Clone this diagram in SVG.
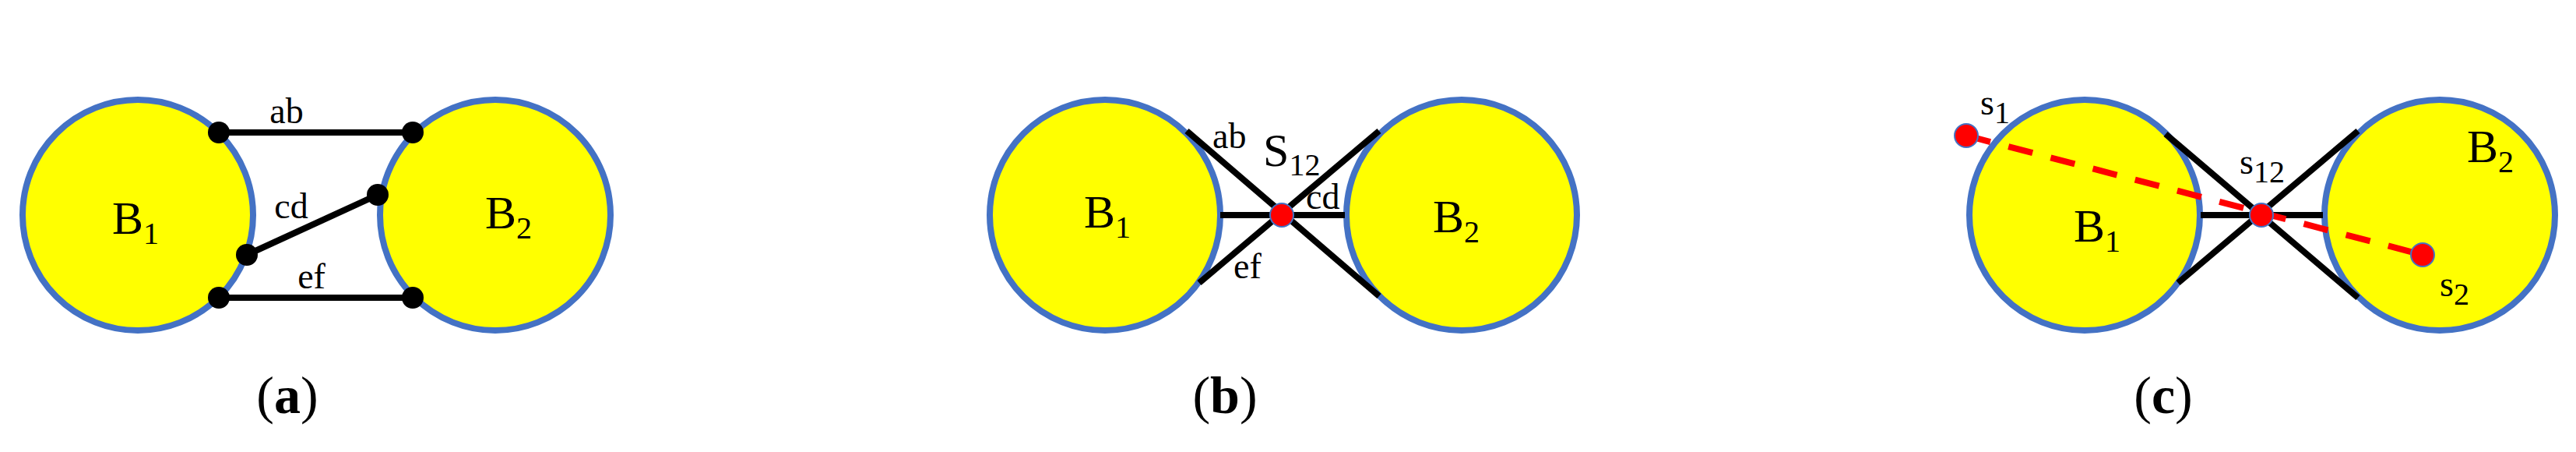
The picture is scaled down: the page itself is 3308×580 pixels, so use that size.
<svg xmlns="http://www.w3.org/2000/svg" width="3308" height="580" viewBox="0 0 3308 580">
<style>
.ball{fill:#ffff00;stroke:#4472c4;stroke-width:8}
.edge{stroke:#000;stroke-width:8;fill:none}
.dot{fill:#000}
.rdot{fill:#ff0000;stroke:#4472c4;stroke-width:2}
.t{font-family:"Liberation Serif",serif;fill:#000}
.lab{font-size:46px}
.big{font-size:60px}
.sub{font-size:40px}
.cap{font-size:68px}
</style>
<rect width="3308" height="580" fill="#fff"/>
<g id="panel-a">
<g id="a-B1"><circle class="ball" cx="177" cy="276" r="148"/><text class="t big" x="144" y="300">B<tspan class="sub" dy="13">1</tspan></text></g>
<g id="a-B2"><circle class="ball" cx="636" cy="276" r="148"/><text class="t big" x="623" y="293">B<tspan class="sub" dy="13">2</tspan></text></g>
<g id="a-connectors">
<line class="edge" x1="281" y1="170" x2="530" y2="170"/>
<line class="edge" x1="317" y1="327" x2="485" y2="250"/>
<line class="edge" x1="281" y1="382" x2="530" y2="382"/>
</g>
<g id="a-dots">
<circle class="dot" cx="281" cy="170" r="14"/><circle class="dot" cx="530" cy="170" r="14"/>
<circle class="dot" cx="317" cy="327" r="14"/><circle class="dot" cx="485" cy="250" r="14"/>
<circle class="dot" cx="281" cy="382" r="14"/><circle class="dot" cx="530" cy="382" r="14"/>
</g>
<text class="t lab" x="368" y="158" text-anchor="middle">ab</text>
<text class="t lab" x="374" y="280" text-anchor="middle">cd</text>
<text class="t lab" x="400" y="370" text-anchor="middle">ef</text>
<text class="t cap" x="369" y="530" text-anchor="middle">(<tspan font-weight="bold">a</tspan>)</text>
</g>
<g id="panel-b">
<g id="b-B1"><circle class="ball" cx="1419" cy="276" r="148"/><text class="t big" x="1392" y="292">B<tspan class="sub" dy="13">1</tspan></text></g>
<g id="b-B2"><circle class="ball" cx="1877" cy="276" r="148"/><text class="t big" x="1840" y="298">B<tspan class="sub" dy="13">2</tspan></text></g>
<g id="b-connectors">
<line class="edge" x1="1524" y1="168" x2="1771" y2="380"/>
<line class="edge" x1="1771" y1="168" x2="1540" y2="363"/>
<line class="edge" x1="1567" y1="276" x2="1727" y2="276"/>
</g>
<g id="b-S12"><circle class="rdot" cx="1646" cy="276" r="15"/></g>
<text class="t lab" x="1557" y="190">ab</text>
<text class="t big" x="1622" y="213">S<tspan class="sub" dy="12">12</tspan></text>
<text class="t lab" x="1677" y="268">cd</text>
<text class="t lab" x="1584" y="357">ef</text>
<text class="t cap" x="1573" y="530" text-anchor="middle">(<tspan font-weight="bold">b</tspan>)</text>
</g>
<g id="panel-c">
<g id="c-B1"><circle class="ball" cx="2677" cy="276" r="148"/><text class="t big" x="2663" y="310">B<tspan class="sub" dy="13">1</tspan></text></g>
<g id="c-B2"><circle class="ball" cx="3133" cy="276" r="148"/><text class="t big" x="3168" y="208">B<tspan class="sub" dy="13">2</tspan></text></g>
<g id="c-connectors">
<line class="edge" x1="2781" y1="172" x2="3028" y2="382"/>
<line class="edge" x1="3028" y1="168" x2="2797" y2="363"/>
<line class="edge" x1="2826" y1="276" x2="2983" y2="276"/>
<line x1="2525" y1="174" x2="3111" y2="327" stroke="#ff0000" stroke-width="8" stroke-dasharray="32,24"/>
</g>
<g id="c-s1"><circle class="rdot" cx="2525" cy="174" r="15"/><text class="t lab" x="2543" y="147">s<tspan class="sub" font-size="34" dy="11">1</tspan></text></g>
<g id="c-s2"><circle class="rdot" cx="3111" cy="327" r="15"/><text class="t lab" x="3133" y="380">s<tspan class="sub" font-size="34" dy="11">2</tspan></text></g>
<g id="c-s12"><circle class="rdot" cx="2904" cy="276" r="15"/><text class="t lab" x="2876" y="223">s<tspan class="sub" font-size="34" dy="11">12</tspan></text></g>
<text class="t cap" x="2778" y="530" text-anchor="middle">(<tspan font-weight="bold">c</tspan>)</text>
</g>
</svg>
